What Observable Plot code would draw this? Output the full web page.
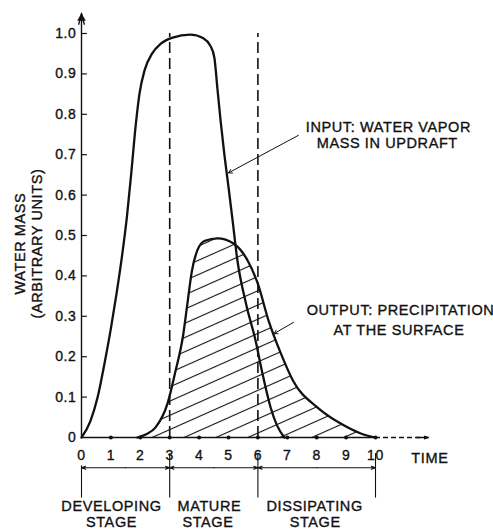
<!DOCTYPE html>
<html>
<head>
<meta charset="utf-8">
<script src="https://cdn.jsdelivr.net/npm/d3@7"></script>
<script src="https://cdn.jsdelivr.net/npm/@observablehq/plot@0.6"></script>
<style>
  html, body { margin: 0; padding: 0; background: #fff; }
  #chart svg { display: block; }
</style>
</head>
<body>
<div id="chart"></div>
<script>
// ---- data ----
const xTicks = [0, 1, 2, 3, 4, 5, 6, 7, 8, 9, 10];
const xTickLabels = ["0", "1", "2", "3", "4", "5", "6", "7", "8", "9", "10"];
const yTicks = [0, 0.1, 0.2, 0.3, 0.4, 0.5, 0.6, 0.7, 0.8, 0.9, 1.0];
const yTickLabels = ["0", "0.1", "0.2", "0.3", "0.4", "0.5", "0.6", "0.7", "0.8", "0.9", "1.0"];
const axisDots = [1, 2, 3, 4, 5, 6, 7, 8, 9, 10];

// Input: water vapor mass in updraft
const inputTime = [0, 0.3, 0.55, 0.8, 1.0, 1.2, 1.38, 1.55, 1.7, 1.84, 1.97, 2.15, 2.4, 2.7, 3.1, 3.7, 4.15, 4.38, 4.52, 4.62, 4.73, 4.86, 5.0, 5.14, 5.3, 5.6, 5.92, 6.15, 6.43, 6.65, 6.9];
const inputMass = [0, 0.04, 0.1, 0.19, 0.27, 0.36, 0.45, 0.55, 0.66, 0.77, 0.85, 0.91, 0.95, 0.975, 0.99, 0.997, 0.988, 0.97, 0.94, 0.866, 0.785, 0.70, 0.62, 0.537, 0.44, 0.33, 0.24, 0.16, 0.075, 0.03, 0];

// Output: precipitation at the surface
const outputTime = [1.9, 2.2, 2.52, 2.93, 3.2, 3.45, 3.6, 3.75, 3.95, 4.2, 4.63, 5.17, 5.65, 6.0, 6.36, 6.77, 7.2, 8.03, 8.8, 9.5, 10];
const outputMass = [0, 0.008, 0.025, 0.085, 0.165, 0.25, 0.33, 0.41, 0.465, 0.487, 0.493, 0.48, 0.438, 0.38, 0.29, 0.21, 0.14, 0.074, 0.035, 0.01, 0];

const stageBounds = [0, 3, 6, 10];
const stageNames = ["DEVELOPING", "MATURE", "DISSIPATING"];
const phaseLines = [3, 6];

// ---- tables built from the arrays ----
const input = inputTime.map((t, i) => ({t, m: inputMass[i]}));
const output = outputTime.map((t, i) => ({t, m: outputMass[i]}));
const yt = yTicks.map((v, i) => ({v, label: yTickLabels[i]}));
const xt = xTicks.map((v, i) => ({v, label: xTickLabels[i]}));
const segs = stageNames.map((name, i) => ({a: stageBounds[i], b: stageBounds[i + 1], mid: (stageBounds[i] + stageBounds[i + 1]) / 2, name}));

const FONT = "'Liberation Sans', Arial, Helvetica, sans-serif";

const svg = Plot.plot({
  width: 493,
  height: 531,
  marginLeft: 81,
  marginRight: 118,
  marginTop: 33,
  marginBottom: 94,
  x: {domain: [0, 10], axis: null},
  y: {domain: [0, 1], axis: null},
  style: {fontFamily: FONT, background: "#fff", color: "#111", overflow: "visible"},
  marks: [
    // hatched precipitation area
    Plot.areaY(output, {x: "t", y: "m", curve: "monotone-x", fill: "url(#hatch)"}),
    // dashed stage dividers
    Plot.ruleX(phaseLines, {y1: 0, y2: 1.0, stroke: "#111", strokeWidth: 1.6, strokeDasharray: "11,5"}),
    // axes
    Plot.arrow([0], {x1: 0, y1: 0, x2: 0, y2: 1.05, stroke: "#111", strokeWidth: 1.4, headLength: 12, headAngle: 28}),
    Plot.dot([0], {x: 0, y: 1.038, symbol: "triangle", r: 3.2, fill: "#111", stroke: null}),
    Plot.ruleY([0], {x1: 0, x2: 10, stroke: "#111", strokeWidth: 1.4}),
    Plot.ruleY([0], {x1: 10, x2: 11.55, stroke: "#111", strokeWidth: 1.4, strokeDasharray: "5,3"}),
    Plot.arrow([0], {x1: 11.4, y1: 0, x2: 11.8, y2: 0, stroke: "#111", strokeWidth: 1.4, headLength: 9, headAngle: 35}),
    Plot.dot(axisDots, {x: d => d, y: 0, r: 2, fill: "#111", stroke: null}),
    // y ticks (inside) and labels
    Plot.ruleY(yTicks.filter(d => d > 0), {y: d => d, x1: 0, x2: 0.2, stroke: "#111", strokeWidth: 1.2}),
    Plot.text(yt, {x: 0, y: "v", text: "label", dx: -5, textAnchor: "end", fontSize: 14, fill: "#111"}),
    Plot.text(xt, {x: "v", y: 0, text: "label", dy: 18, fontSize: 14, fill: "#111"}),
    Plot.text(["TIME"], {x: 11.22, y: 0, dy: 21, text: d => d, textAnchor: "start", fontSize: 14.5, fill: "#111"}),
    // y axis title
    Plot.text(["WATER MASS"], {x: -2.08, y: 0.48, text: d => d, rotate: -90, fontSize: 14.5, fill: "#111"}),
    Plot.text(["(ARBITRARY UNITS)"], {x: -1.5, y: 0.48, text: d => d, rotate: -90, fontSize: 14.5, fill: "#111"}),
    // curves
    Plot.line(input, {x: "t", y: "m", curve: "monotone-x", stroke: "#111", strokeWidth: 2.3}),
    Plot.line(output, {x: "t", y: "m", curve: "monotone-x", stroke: "#111", strokeWidth: 2.3}),
    // annotations with leaders
    Plot.arrow([0], {x1: 7.38, y1: 0.748, x2: 5.0, y2: 0.655, stroke: "#111", strokeWidth: 1, headLength: 6}),
    Plot.text(["INPUT: WATER VAPOR"], {x: 10.44, y: 0.767, text: d => d, fontSize: 14.5, fill: "#111"}),
    Plot.text(["MASS IN UPDRAFT"], {x: 10.4, y: 0.728, text: d => d, fontSize: 14.5, fill: "#111"}),
    Plot.arrow([0], {x1: 7.21, y1: 0.285, x2: 6.55, y2: 0.257, stroke: "#111", strokeWidth: 1, headLength: 6}),
    Plot.text(["OUTPUT: PRECIPITATION"], {x: 10.85, y: 0.315, text: d => d, fontSize: 14.5, fill: "#111"}),
    Plot.text(["AT THE SURFACE"], {x: 10.8, y: 0.265, text: d => d, fontSize: 14.5, fill: "#111"}),
    // stage bracket
    Plot.ruleX(stageBounds, {y1: d => (d === 0 ? -0.07 : -0.04), y2: -0.15, stroke: "#111", strokeWidth: 1.1}),
    Plot.arrow(segs, {x1: "mid", x2: "a", y1: -0.075, y2: -0.075, stroke: "#111", strokeWidth: 1.1, headLength: 6, headAngle: 40}),
    Plot.arrow(segs, {x1: "mid", x2: "b", y1: -0.075, y2: -0.075, stroke: "#111", strokeWidth: 1.1, headLength: 6, headAngle: 40}),
    Plot.text(segs, {x: (d, i) => [1.02, 4.35, 7.93][i], y: -0.17, text: "name", fontSize: 14.5, fill: "#111"}),
    Plot.text(segs, {x: (d, i) => [1.02, 4.3, 7.95][i], y: -0.209, text: () => "STAGE", fontSize: 14.5, fill: "#111"})
  ]
});

// hatch pattern definition
const defs = d3.select(svg).insert("defs", ":first-child");
const pat = defs.append("pattern")
  .attr("id", "hatch")
  .attr("patternUnits", "userSpaceOnUse")
  .attr("width", 10)
  .attr("height", 13)
  .attr("patternTransform", "rotate(-24)");
pat.append("line").attr("x1", -1).attr("y1", 6.5).attr("x2", 11).attr("y2", 6.5)
  .attr("stroke", "#111").attr("stroke-width", 1.1);

d3.select(svg).selectAll("text")
  .style("letter-spacing", "0.6px")
  .attr("stroke", "#111")
  .attr("stroke-width", 0.35);

document.getElementById("chart").appendChild(svg);
</script>
</body>
</html>
